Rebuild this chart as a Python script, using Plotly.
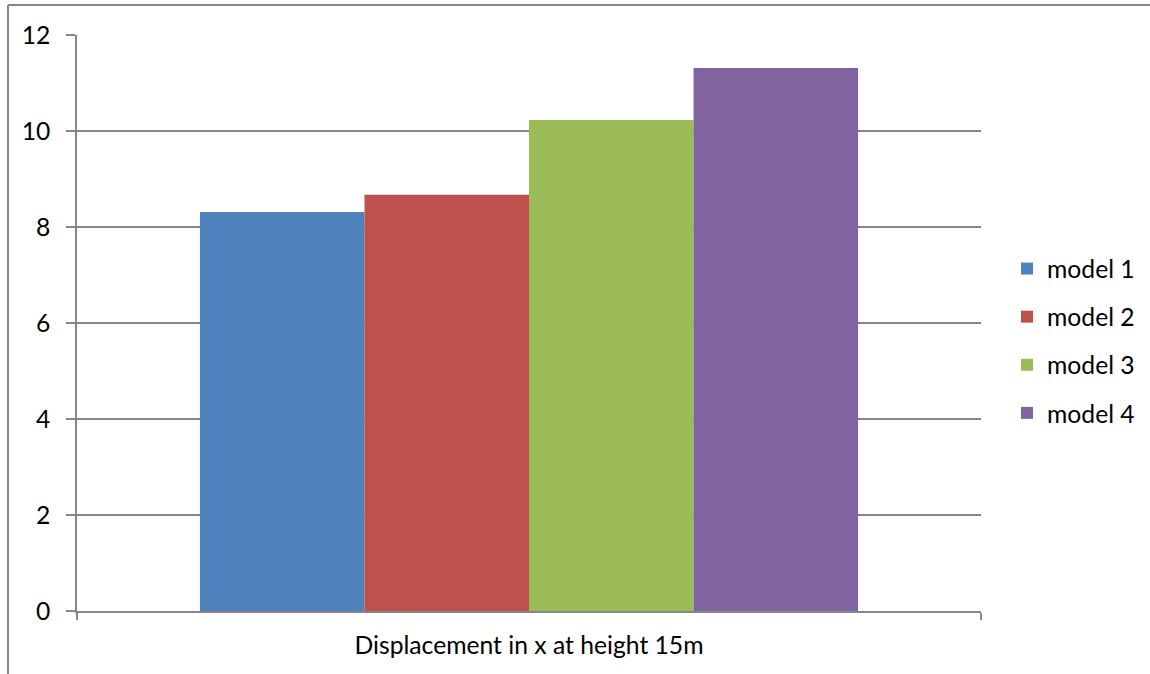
import plotly.graph_objects as go

# Data
category = ["Displacement in x at height 15m"]
models = ["model 1", "model 2", "model 3", "model 4"]
values = [8.31, 8.67, 10.23, 11.31]
colors = ["#4F81BD", "#C0504D", "#9BBB59", "#8064A2"]

W, H = 1150, 674
ML, MR, MT, MB = 77, 169, 35, 63
plot_w = W - ML - MR
plot_h = H - MT - MB

fig = go.Figure()
for i, (name, val, col) in enumerate(zip(models, values, colors)):
    fig.add_trace(go.Bar(
        x=category, y=[val], name=name,
        marker=dict(color=col, line=dict(width=0)),
        legendgroup=f"g{i}",
    ))

font = dict(family="Lato, 'Open Sans', sans-serif", size=24.7, color="#000000")
axis_color = "#868686"

fig.update_layout(
    width=W, height=H,
    margin=dict(l=ML, r=MR, t=MT, b=MB, pad=0, autoexpand=False),
    paper_bgcolor="white", plot_bgcolor="white",
    barmode="group", bargap=0.272, bargroupgap=0,
    font=font,
    showlegend=True,
    legend=dict(
        x=(1007 - ML) / plot_w, y=(611 - 246) / plot_h,
        xanchor="left", yanchor="top",
        font=font, tracegroupgap=13,
        bgcolor="rgba(0,0,0,0)",
        traceorder="grouped",
    ),
    xaxis=dict(
        showline=True, linecolor=axis_color, linewidth=1.5,
        ticks="outside", tickson="boundaries", ticklen=7,
        tickcolor=axis_color, tickwidth=1.5,
        showgrid=False, tickfont=font, ticklabelstandoff=12,
    ),
    yaxis=dict(
        range=[0, 12], dtick=2, tick0=0,
        showline=True, linecolor=axis_color, linewidth=1.5,
        ticks="outside", ticklen=9, tickcolor=axis_color, tickwidth=1.5,
        showgrid=True, gridcolor=axis_color, gridwidth=1.5,
        zeroline=False, tickfont=font, ticklabelstandoff=11,
    ),
    shapes=[
        # chart frame
        dict(type="line", xref="paper", yref="paper",
             x0=(8 - ML) / plot_w, x1=(W + 10 - ML) / plot_w,
             y0=(H - MB - 5) / plot_h, y1=(H - MB - 5) / plot_h,
             line=dict(color=axis_color, width=2)),
        dict(type="line", xref="paper", yref="paper",
             x0=(8 - ML) / plot_w, x1=(8 - ML) / plot_w,
             y0=(H - MB - 5) / plot_h, y1=(H - MB - 680) / plot_h,
             line=dict(color=axis_color, width=2)),
    ],
)

fig.write_html("out.html")
